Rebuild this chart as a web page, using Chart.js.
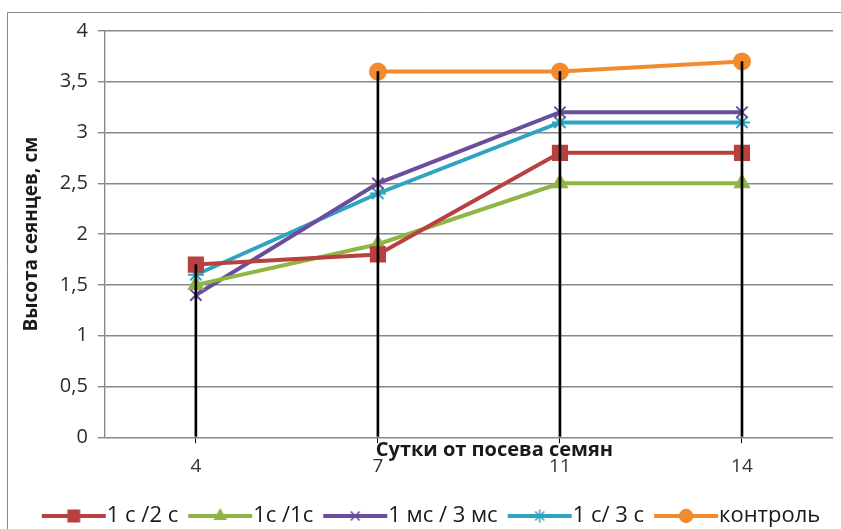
<!DOCTYPE html>
<html>
<head>
<meta charset="utf-8">
<script src="https://cdn.jsdelivr.net/npm/chart.js@4.4.1/dist/chart.umd.min.js"></script>
<style>
  body { margin: 0; background: #fff; }
  #wrap { width: 841px; height: 529px; }
</style>
</head>
<body>
<div id="wrap"><canvas id="myChart" width="841" height="529"></canvas></div>
<script>
// Сутки от посева семян
const days = ['4', '7', '11', '14'];

// Высота сеянцев, см
const s1c2c = [1.7, 1.8, 2.8, 2.8];
const s1c1c = [1.5, 1.9, 2.5, 2.5];
const s1mc3mc = [1.4, 2.5, 3.2, 3.2];
const s1c3c = [1.6, 2.4, 3.1, 3.1];
const control = [null, 3.6, 3.6, 3.7];

const yTicks = [0, 0.5, 1, 1.5, 2, 2.5, 3, 3.5, 4];

const FONT = "'Open Sans', 'DejaVu Sans', sans-serif";
const LEGEND_FONT = 22;
const ICON_W = 50;
const PLOT_RIGHT = 833;

// линии от максимума до оси (как drop lines в Excel)
const allSeries = [s1c2c, s1c1c, s1mc3mc, s1c3c, control];
const dropLines = days.map((d, i) => {
  const vals = allSeries.map(s => s[i]).filter(v => v !== null);
  return [0, Math.max(...vals)];
});

// картинка для легенды: линия с маркером, прижата к тексту
function legendIcon(color, style, radius) {
  const h = LEGEND_FONT / 2;
  const c = document.createElement('canvas');
  c.width = ICON_W + 2 * h; c.height = 20;
  const g = c.getContext('2d');
  const x0 = h - 4, x1 = c.width - 1;
  g.strokeStyle = color;
  g.lineWidth = 4;
  g.beginPath();
  g.moveTo(x0, 10);
  g.lineTo(x1, 10);
  g.stroke();
  g.fillStyle = color;
  g.lineWidth = 1.5;
  Chart.helpers.drawPoint(g, { pointStyle: style, radius: radius, rotation: 0, borderWidth: 1.5 }, (x0 + x1) / 2, 10);
  return c;
}

function series(label, data, color, style, radius) {
  return {
    type: 'line',
    label: label,
    data: data,
    borderColor: color,
    backgroundColor: color,
    borderWidth: 4,
    pointStyle: style,
    pointRadius: radius,
    pointBorderWidth: 2,
    pointBackgroundColor: color,
    pointBorderColor: color,
    tension: 0,
    order: 1,
    legendIcon: legendIcon(color, style, radius * 0.8)
  };
}

const frame = {
  id: 'frame',
  afterLayout(chart) {
    // область построения почти до правого края, как в оригинале
    const area = chart.chartArea;
    area.right = PLOT_RIGHT;
    area.width = area.right - area.left;
    const x = chart.scales.x;
    x.right = PLOT_RIGHT;
    x.width = x.right - x.left;
    x.configure();
    const y = chart.scales.y;
    y.configure();
  },
  beforeDraw(chart) {
    const ctx = chart.ctx;
    ctx.save();
    ctx.fillStyle = '#fff';
    ctx.fillRect(0, 0, chart.width, chart.height);
    ctx.strokeStyle = '#8a8a8a';
    ctx.lineWidth = 1;
    ctx.beginPath();
    ctx.moveTo(841, 12.5);
    ctx.lineTo(7.5, 12.5);
    ctx.lineTo(7.5, 529);
    ctx.stroke();
    ctx.restore();
  },
  afterDraw(chart) {
    // подпись оси X стоит над подписями делений
    const ctx = chart.ctx;
    const area = chart.chartArea;
    ctx.save();
    ctx.font = "bold 20px " + FONT;
    ctx.fillStyle = '#1a1a1a';
    ctx.textAlign = 'center';
    ctx.textBaseline = 'middle';
    ctx.fillText('Сутки от посева семян', area.left + (area.right - area.left) * 0.535, area.bottom + 13);
    ctx.restore();
  }
};

new Chart(document.getElementById('myChart'), {
  type: 'line',
  data: {
    labels: days,
    datasets: [
      series('1 с /2 с', s1c2c, '#b8403e', 'rect', 10),
      series('1с /1с', s1c1c, '#8fb545', 'triangle', 8),
      series('1 мс / 3 мс', s1mc3mc, '#6a4d9c', 'crossRot', 8),
      series('1 с/ 3 с', s1c3c, '#2fa4c0', 'star', 8),
      series('контроль', control, '#f28a2e', 'circle', 8),
      {
        type: 'bar',
        label: '',
        data: dropLines,
        backgroundColor: '#000',
        borderWidth: 0,
        barThickness: 2,
        order: 0
      }
    ]
  },
  options: {
    responsive: false,
    animation: false,
    layout: {
      padding: { top: 31, left: 20, right: -5, bottom: -8 }
    },
    scales: {
      x: {
        type: 'category',
        offset: true,
        afterFit(axis) {
          axis.paddingLeft = 0;
          axis.paddingRight = 0;
          axis.height += 1;
        },
        grid: {
          display: true,
          drawOnChartArea: false,
          offset: false,
          color: '#000',
          tickLength: 6
        },
        border: { display: false },
        ticks: {
          padding: 12,
          color: '#333',
          font: { family: FONT, size: 19 }
        }
      },
      y: {
        min: 0,
        max: 4,
        afterBuildTicks(axis) {
          axis.ticks = yTicks.map(v => ({ value: v }));
        },
        grid: {
          color: '#888',
          lineWidth: 1.4,
          tickLength: 7
        },
        border: { display: true, color: '#888', width: 1.4 },
        ticks: {
          padding: 10,
          color: '#2b2b2b',
          font: { family: FONT, size: 20 },
          callback: v => String(v).replace('.', ',')
        },
        title: {
          display: true,
          text: 'Высота сеянцев, см',
          color: '#1a1a1a',
          font: { family: FONT, size: 19, weight: 'bold' },
          padding: { top: 0, bottom: 7 }
        }
      }
    },
    plugins: {
      legend: {
        position: 'bottom',
        labels: {
          usePointStyle: true,
          pointStyleWidth: ICON_W,
          boxHeight: 20,
          padding: 14,
          color: '#1a1a1a',
          font: { family: FONT, size: LEGEND_FONT },
          filter: item => item.text !== '',
          generateLabels(chart) {
            return chart.data.datasets.map((ds, i) => ({
              text: ds.label,
              pointStyle: ds.legendIcon,
              fillStyle: ds.backgroundColor,
              strokeStyle: ds.borderColor,
              lineWidth: 0,
              fontColor: '#1a1a1a',
              hidden: false,
              datasetIndex: i
            }));
          }
        }
      },
      tooltip: { enabled: false }
    }
  },
  plugins: [frame]
});
</script>
</body>
</html>
